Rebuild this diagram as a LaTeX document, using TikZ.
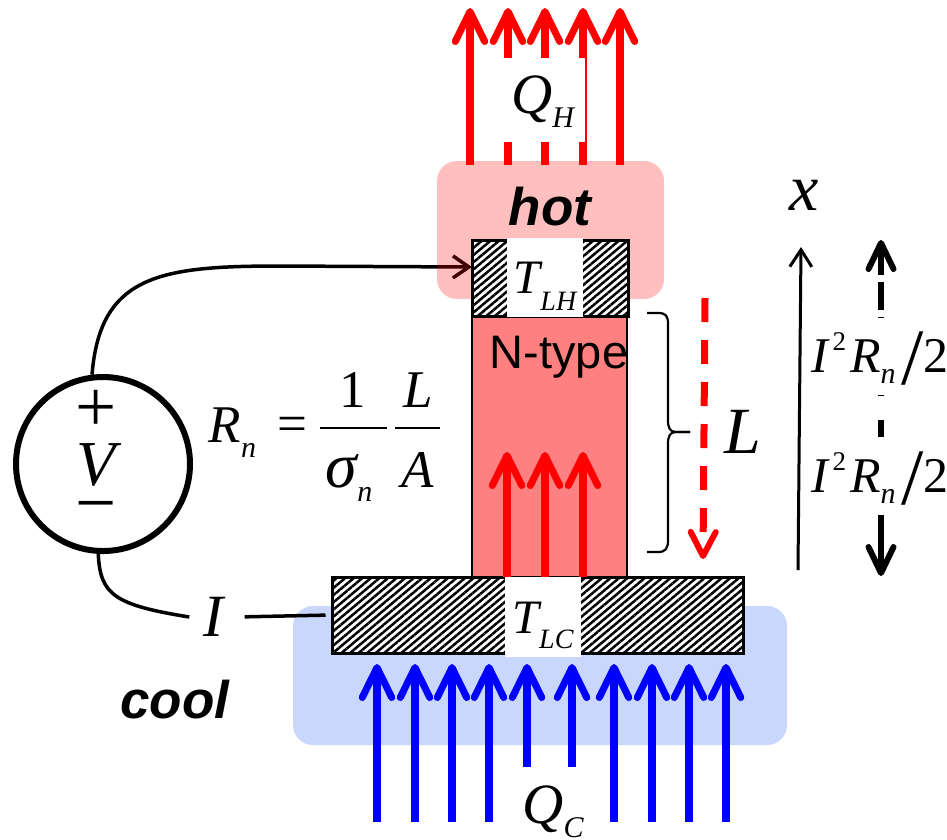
\documentclass[tikz,border=0pt]{standalone}
\usepackage{fontspec}
\setmainfont{Liberation Serif}
\newfontfamily\sansfam{Liberation Sans}
\usetikzlibrary{arrows.meta,patterns.meta}
\definecolor{hotred}{RGB}{255,0,0}
\definecolor{coolblue}{RGB}{35,95,239}
\definecolor{legred}{RGB}{255,128,128}
\newcommand{\pxfont}[1]{\fontsize{\fpeval{#1*0.2845}}{\fpeval{#1*0.3}}\selectfont}
\newcommand{\lowtxt}[3]{\raisebox{-#2}{\pxfont{#1}#3}}
\newcommand{\heatlbl}{\pxfont{50}\itshape I\kern.5mm\raisebox{2.2mm}{\pxfont{27}\upshape 2}\kern.4mm R\lowtxt{30}{1.1mm}{n}\kern.6mm\raisebox{-1.2mm}{\pxfont{80}\upshape /}{\upshape 2}}
\begin{document}
\begin{tikzpicture}[
        x=1cm, y=-1cm,
        wire/.style={black, line width=.35mm},
        hotbox/.style={fill=hotred, fill opacity=.25, rounded corners=.2cm, minimum width=2.27cm, minimum height=1.38cm},
        coolbox/.style={fill=coolblue, fill opacity=.25, rounded corners=.2cm, minimum width=4.94cm, minimum height=1.39cm},
        plate/.style={draw=black, line width=.3mm, preaction={fill=white}, pattern={Lines[angle=40,distance=.55mm,line width=.25mm]}, minimum height=.76cm},
        leg/.style={draw=black, line width=.25mm, fill=legred, minimum width=1.55cm, minimum height=2.6cm},
        gaplbl/.style={fill=white, inner sep=0pt, font=\itshape, anchor=base},
        txt/.style={inner sep=0pt, font=\itshape, anchor=base},
        sanslbl/.style={inner sep=0pt, font=\sansfam, anchor=base},
        heat/.style={line width=.8mm, -{Straight Barb[length=3mm,width=2.95mm,line width=.7mm,round]}},
        thinarrow/.style={line width=.3mm, -{Straight Barb[length=1.7mm,width=2.2mm]}}
    ]
    \useasboundingbox (0,0) rectangle (9.47,8.39);
    % Source and plates
    \node[circle, draw=black, line width=.6mm, minimum size=1.74cm] (vsrc) at (1.03,4.64) {};
    \node[txt] (vplus) at (.965,4.31) {\pxfont{73}\upshape +};
    \node[txt] (vname) at (.96,4.85) {\pxfont{64}V};
    \node[txt] (vminus) at (.965,5.27) {\pxfont{73}\upshape −};
    \node[inner sep=1.3mm, font=\itshape] (cur) at (2.13,6.17) {\pxfont{60}I};
    \coordinate (hotin) at (4.72,2.67);
    % Wires
    \draw[wire, -{Straight Barb[length=1.6mm,width=2.2mm]}] (vsrc.97) .. controls (1.00,2.75) and (1.60,2.66) .. (2.80,2.66) -- (hotin);
    \draw[wire] (vsrc.267) .. controls (1.00,5.95) and (1.15,6.05) .. (cur.west);
    % Hot and cool sides
    \node[hotbox] (hot) at (5.505,2.30) {};
    \node[coolbox] (cool) at (5.40,6.755) {};
    \node[leg] (nleg) at (5.495,4.47) {};
    \node[plate, minimum width=1.56cm] (hplate) at (5.50,2.785) {};
    \node[plate, minimum width=4.11cm] (cplate) at (5.375,6.15) {};
    \draw[wire, shorten <=.8mm, shorten >=.5mm] (cur.east) -- (cplate.west);
    % Heat arrows
    \foreach \x [count=\i] in {4.70,5.08,5.45,5.83,6.20} {
        \coordinate (hb\i) at (\x,1.65);
        \coordinate (ht\i) at (\x,.08);
        \draw[heat, hotred] (hb\i) -- (ht\i);
    }
    \foreach \x [count=\i] in {5.07,5.45,5.83} {
        \coordinate (lb\i) at (\x,5.77);
        \coordinate (lt\i) at (\x,4.52);
        \draw[heat, hotred] (lb\i) -- (lt\i);
    }
    \foreach \x/\y [count=\i] in {3.77/8.22,4.15/8.22,4.52/8.22,4.89/8.22,5.27/7.67,5.72/7.67,6.14/8.22,6.52/8.22,6.89/8.22,7.26/8.22} {
        \coordinate (cb\i) at (\x,\y);
        \coordinate (ct\i) at (\x,6.64);
        \draw[heat, blue] (cb\i) -- (ct\i);
    }
    \coordinate (backtop) at (7.05,2.98);
    \coordinate (backtip) at (7.03,5.59);
    \draw[line width=.7mm, hotred, dash pattern=on 2.4mm off 1.8mm, -{Straight Barb[length=2.4mm,width=2.5mm,line width=.6mm,round]}] (backtop) -- (backtip);
    % Labels on white
    \node[gaplbl, minimum width=.85cm, text height=5.5mm, text depth=2.9mm] (qh) at (5.425,1.13) {\pxfont{57}Q\lowtxt{30}{1.4mm}{H}};
    \node[gaplbl, minimum width=.76cm, text height=5.5mm, text depth=2.4mm] (tlh) at (5.45,2.93) {\pxfont{48}T\lowtxt{28}{1.7mm}{LH}};
    \node[gaplbl, minimum width=.76cm, text height=5.6mm, text depth=2.4mm] (tlc) at (5.43,6.33) {\pxfont{48}T\lowtxt{28}{1.5mm}{LC}};
    \node[txt] (qc) at (5.53,8.23) {\pxfont{57}Q\lowtxt{30}{1.4mm}{C}};
    \node[sanslbl] (nlbl) at (5.59,3.68) {\pxfont{47}N-type};
    \node[sanslbl, font=\sansfam\bfseries\itshape] (hotlbl) at (5.50,2.25) {\pxfont{53}hot};
    \node[sanslbl, font=\sansfam\bfseries\itshape] (coollbl) at (1.75,7.18) {\pxfont{53}cool};
    % Resistance
    \node[txt, anchor=base west] (rn) at (2.08,4.42) {\pxfont{53}R\lowtxt{30}{1.5mm}{n}};
    \node[txt] (eq) at (2.925,4.41) {\pxfont{53}\upshape =};
    \node[txt] (one) at (3.53,4.07) {\pxfont{53}\upshape 1};
    \node[txt] (lnum) at (4.18,4.07) {\pxfont{53}L};
    \node[txt, anchor=base west] (sig) at (3.25,4.87) {\pxfont{64}σ\lowtxt{30}{1.4mm}{n}};
    \node[txt] (aden) at (4.18,4.87) {\pxfont{53}A};
    \coordinate (fa) at (3.20,4.28);
    \coordinate (fb) at (3.87,4.28);
    \coordinate (fc) at (3.95,4.28);
    \coordinate (fd) at (4.40,4.28);
    \draw[line width=.25mm] (fa) -- (fb);
    \draw[line width=.25mm] (fc) -- (fd);
    % Length brace
    \coordinate (bt) at (6.47,3.13);
    \coordinate (bm) at (6.90,4.32);
    \coordinate (bb) at (6.47,5.52);
    \draw[line width=.22mm] (bt) -- (6.58,3.13) .. controls (6.66,3.13) and (6.68,3.16) .. (6.68,3.24) -- (6.68,4.20) .. controls (6.68,4.28) and (6.70,4.32) .. (6.76,4.32) -- (bm);
    \draw[line width=.22mm] (bm) -- (6.76,4.32) .. controls (6.70,4.32) and (6.68,4.36) .. (6.68,4.44) -- (6.68,5.40) .. controls (6.68,5.48) and (6.66,5.52) .. (6.58,5.52) -- (bb);
    \node[txt] (llbl) at (7.43,4.53) {\pxfont{66}L};
    % Axis and Joule heat
    \coordinate (xb) at (7.98,5.70);
    \coordinate (xt) at (8.01,2.47);
    \draw[thinarrow] (xb) -- (xt);
    \node[txt] (xlbl) at (8.04,2.10) {\pxfont{66}x};
    \coordinate (jm) at (8.81,3.96);
    \coordinate (jn) at (8.81,4.20);
    \coordinate (jt) at (8.81,2.40);
    \coordinate (jb) at (8.81,5.76);
    \draw[line width=.6mm, dash pattern=on 2.8mm off .7mm, dash phase=1.9mm, -{Straight Barb[length=2.6mm,width=2.5mm,round]}] (jm) -- (jt);
    \draw[line width=.6mm, -{Straight Barb[length=2.6mm,width=2.5mm,round]}] (jn) -- (jb);
    \node[gaplbl, minimum width=1.3cm, text height=5.4mm, text depth=2.3mm] (jup) at (8.80,3.72) {\heatlbl};
    \node[gaplbl, minimum width=1.3cm, text height=5.5mm, text depth=2.3mm] (jdn) at (8.80,4.92) {\heatlbl};
\end{tikzpicture}
\end{document}
